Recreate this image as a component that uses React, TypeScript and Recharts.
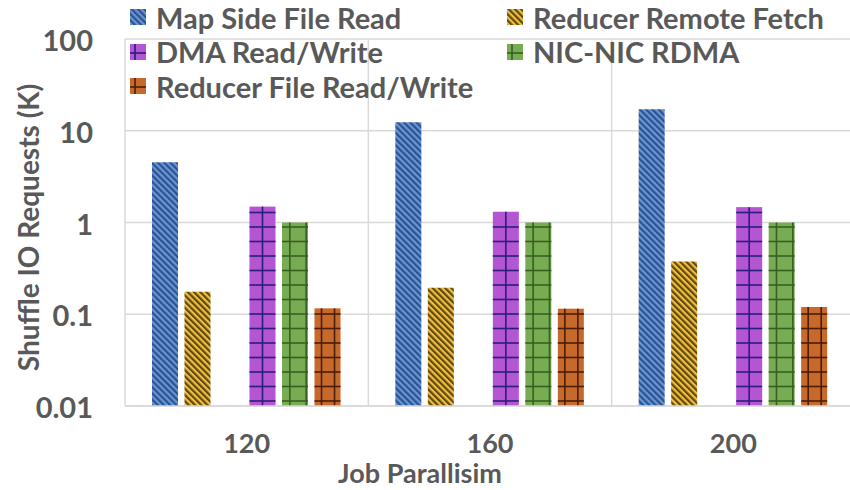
import React from 'react';
import {
  BarChart,
  Bar,
  XAxis,
  YAxis,
  CartesianGrid,
  Legend,
} from 'recharts';

const categories = ['120', '160', '200'];
const mapSideRead = [4.55, 12.4, 17.2];
const reducerRemoteFetch = [0.176, 0.195, 0.375];
const dmaReadWrite = [1.49, 1.31, 1.47];
const nicRdma = [1.0, 1.0, 1.0];
const reducerFileRW = [0.116, 0.115, 0.12];
const yTicks = [0.01, 0.1, 1, 10, 100];

const TEXT = '#595959';
const GRID = '#D9D9D9';
const FONT = 'Lato, "Open Sans", sans-serif';

const data = categories.map((c, i) => ({
  name: c,
  map: mapSideRead[i],
  rrf: reducerRemoteFetch[i],
  gap: null,
  dma: dmaReadWrite[i],
  nic: nicRdma[i],
  rfile: reducerFileRW[i],
}));

// legend order is row-wise, two columns
const legendItems = [
  { key: 'map', name: 'Map Side File Read', kind: 'stripe', base: '#6A97D4', line: '#2B5190' },
  { key: 'rrf', name: 'Reducer Remote Fetch', kind: 'stripe', base: '#F2C03C', line: '#5E4814' },
  { key: 'dma', name: 'DMA Read/Write', kind: 'grid', base: '#B455D4', line: '#2A1E7A', cols: [0.5] },
  { key: 'nic', name: 'NIC-NIC RDMA', kind: 'grid', base: '#78AC52', line: '#365F23', cols: [0.3, 0.93] },
  { key: 'rfile', name: 'Reducer File Read/Write', kind: 'grid', base: '#C8692C', line: '#4A1E08', cols: [0.27, 0.77] },
];

const StripeDef = ({ id, base, line }: { id: string; base: string; line: string }) => (
  <pattern id={id} patternUnits="userSpaceOnUse" width={4.4} height={10} patternTransform="rotate(-45)">
    <rect x={0} y={0} width={4.4} height={10} fill={base} />
    <rect x={0} y={0} width={2.2} height={10} fill={line} />
  </pattern>
);

// bar drawn with a plain fill plus a coarse grid of dark lines
const GridBar = (props: any) => {
  const { x = 0, y = 0, width = 0, height = 0, base, line, cols } = props;
  if (!height || height <= 0) return null;
  const rows: number[] = [];
  for (let yy = y + height - 5; yy > y + 1; yy -= 14.5) rows.push(yy);
  return (
    <g>
      <rect x={x} y={y} width={width} height={height} fill={base} />
      {rows.map((yy, i) => (
        <line key={`h${i}`} x1={x} x2={x + width} y1={yy} y2={yy} stroke={line} strokeWidth={1.6} />
      ))}
      {cols.map((f: number, i: number) => (
        <line key={`v${i}`} x1={x + width * f} x2={x + width * f} y1={y} y2={y + height} stroke={line} strokeWidth={1.6} />
      ))}
    </g>
  );
};

const Swatch = ({ item }: { item: any }) => {
  const id = `lg-${item.key}`;
  return (
    <svg width={16} height={16} style={{ marginRight: 10, flex: 'none' }}>
      {item.kind === 'stripe' ? (
        <>
          <defs>
            <StripeDef id={id} base={item.base} line={item.line} />
          </defs>
          <rect width={16} height={16} fill={`url(#${id})`} />
        </>
      ) : (
        <>
          <rect width={16} height={16} fill={item.base} />
          <line x1={0} x2={16} y1={9} y2={9} stroke={item.line} strokeWidth={1.6} />
          <line x1={5} x2={5} y1={0} y2={16} stroke={item.line} strokeWidth={1.6} />
        </>
      )}
    </svg>
  );
};

const LegendContent = () => (
  <div
    style={{
      display: 'grid',
      gridTemplateColumns: '377px 377px',
      gridAutoRows: '34.5px',
      fontFamily: FONT,
      fontWeight: 700,
      fontSize: 29,
      color: TEXT,
    }}
  >
    {legendItems.map((item) => (
      <div key={item.key} style={{ display: 'flex', alignItems: 'center', whiteSpace: 'nowrap' }}>
        <Swatch item={item} />
        <span>{item.name}</span>
      </div>
    ))}
  </div>
);

const XTick = ({ x, y, payload }: any) => (
  <text x={x} y={y + 47} textAnchor="middle" fill={TEXT} fontFamily={FONT} fontWeight={700} fontSize={27}>
    {payload.value}
  </text>
);

const YTick = ({ x, y, payload }: any) => (
  <text x={x} y={y + 12} textAnchor="end" fill={TEXT} fontFamily={FONT} fontWeight={700} fontSize={29}>
    {payload.value}
  </text>
);

export default function App() {
  const byKey = (k: string) => legendItems.find((d) => d.key === k)!;
  return (
    <div style={{ position: 'absolute', left: 0, top: 0, width: 850, height: 490, overflow: 'hidden', background: '#fff' }}>
      <BarChart
        width={860}
        height={490}
        data={data}
        margin={{ top: 39, right: 5, left: 0, bottom: 0 }}
        barSize={26}
        barGap={6.5}
      >
        <defs>
          <StripeDef id="st-map" base={byKey('map').base} line={byKey('map').line} />
          <StripeDef id="st-rrf" base={byKey('rrf').base} line={byKey('rrf').line} />
        </defs>
        <CartesianGrid
          stroke={GRID}
          strokeWidth={1.5}
          verticalCoordinatesGenerator={({ offset }: any) =>
            [0, 1, 2, 3].map((i) => offset.left + (i * offset.width) / categories.length)
          }
        />
        <XAxis
          dataKey="name"
          height={84}
          axisLine={{ stroke: GRID, strokeWidth: 1.5 }}
          tickLine={false}
          tickSize={0}
          tickMargin={0}
          tick={<XTick />}
          label={{
            value: 'Job Parallisim',
            content: ({ viewBox }: any) => (
              <text
                x={viewBox.x + 295}
                y={viewBox.y + 77}
                textAnchor="middle"
                fill={TEXT}
                fontFamily={FONT}
                fontWeight={700}
                fontSize={27}
              >
                Job Parallisim
              </text>
            ),
          }}
        />
        <YAxis
          scale="log"
          domain={[0.01, 100]}
          ticks={yTicks}
          allowDataOverflow
          width={125}
          axisLine={false}
          tickLine={false}
          tickSize={0}
          tickMargin={32}
          tick={<YTick />}
          label={{
            value: 'Shuffle IO Requests (K)',
            content: ({ viewBox }: any) => {
              const cx = viewBox.x + 28;
              const cy = viewBox.y + viewBox.height / 2 + 5;
              return (
                <text
                  x={cx}
                  y={cy}
                  transform={`rotate(-90 ${cx} ${cy})`}
                  textAnchor="middle"
                  dominantBaseline="central"
                  fill={TEXT}
                  fontFamily={FONT}
                  fontWeight={700}
                  fontSize={28}
                >
                  Shuffle IO Requests (K)
                </text>
              );
            },
          }}
        />
        <Legend
          content={<LegendContent />}
          layout="horizontal"
          verticalAlign="middle"
          align="center"
          wrapperStyle={{ position: 'absolute', top: 0, left: 130, width: 760 }}
        />
        <Bar dataKey="map" name="Map Side File Read" fill="url(#st-map)" isAnimationActive={false} />
        <Bar dataKey="rrf" name="Reducer Remote Fetch" fill="url(#st-rrf)" isAnimationActive={false} />
        <Bar dataKey="gap" legendType="none" fill="none" isAnimationActive={false} />
        {['dma', 'nic', 'rfile'].map((k) => {
          const it = byKey(k);
          return (
            <Bar
              key={k}
              dataKey={k}
              name={it.name}
              fill={it.base}
              isAnimationActive={false}
              shape={(p: any) => <GridBar {...p} base={it.base} line={it.line} cols={it.cols} />}
            />
          );
        })}
      </BarChart>
    </div>
  );
}
